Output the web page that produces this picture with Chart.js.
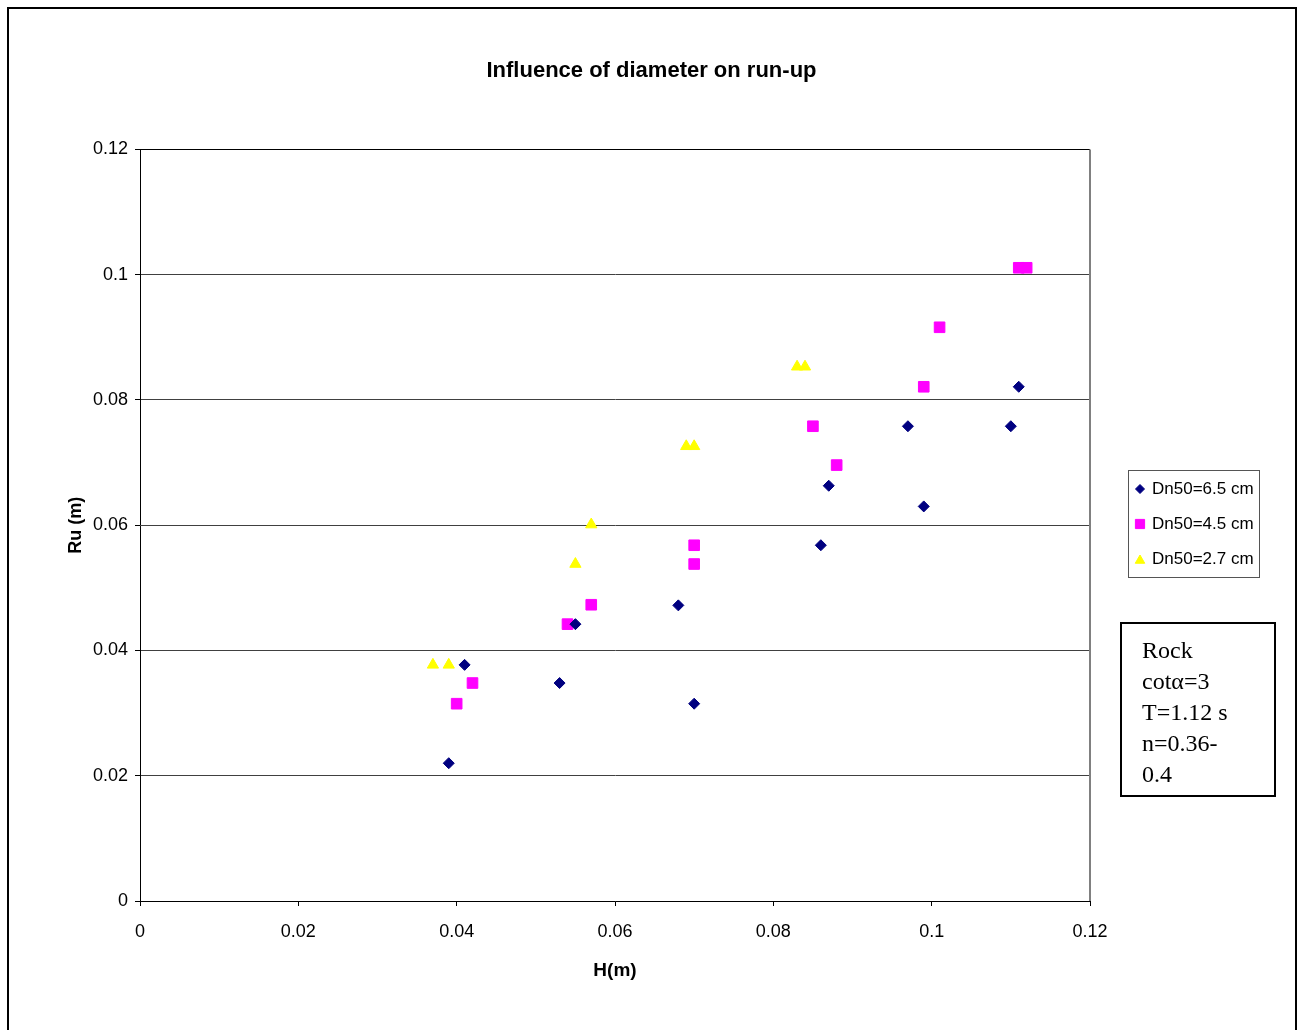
<!DOCTYPE html>
<html>
<head>
<meta charset="utf-8">
<script src="https://cdn.jsdelivr.net/npm/chart.js@4/dist/chart.umd.min.js"></script>
<style>
  html, body { margin: 0; padding: 0; background: #fff; }
  canvas { display: block; }
</style>
</head>
<body>
<canvas id="c" width="1303" height="1030"></canvas>
<script>
// ---- Data ----
const chartTitle = 'Influence of diameter on run-up';
const xAxisTitle = 'H(m)';
const yAxisTitle = 'Ru (m)';
const xTickLabels = ['0', '0.02', '0.04', '0.06', '0.08', '0.1', '0.12'];
const yTickLabels = ['0', '0.02', '0.04', '0.06', '0.08', '0.1', '0.12'];
const seriesNames = ['Dn50=6.5 cm', 'Dn50=4.5 cm', 'Dn50=2.7 cm'];

const h65 = [0.039, 0.041, 0.053, 0.055, 0.068, 0.070, 0.086, 0.087, 0.097, 0.099, 0.110, 0.111];
const ru65 = [0.022, 0.0377, 0.0348, 0.0442, 0.0472, 0.0315, 0.0568, 0.0663, 0.0758, 0.0630, 0.0758, 0.0821];

const h45 = [0.040, 0.042, 0.054, 0.057, 0.070, 0.070, 0.085, 0.088, 0.099, 0.101, 0.111, 0.112];
const ru45 = [0.0315, 0.0348, 0.0442, 0.0473, 0.0538, 0.0568, 0.0758, 0.0696, 0.0821, 0.0916, 0.1011, 0.1011];

const h27 = [0.037, 0.039, 0.055, 0.057, 0.069, 0.070, 0.083, 0.084];
const ru27 = [0.0377, 0.0377, 0.0538, 0.0601, 0.0726, 0.0726, 0.0853, 0.0853];

const noteLines = ['Rock', 'cot\u03B1=3', 'T=1.12 s', 'n=0.36-', '0.4'];

// ---- Build chart ----
const toPts = (xs, ys) => xs.map((x, i) => ({ x: x, y: ys[i] }));
const SANS = '"Liberation Sans", Arial, sans-serif';
const SERIF = '"Liberation Serif", "Times New Roman", serif';

const decor = {
  id: 'decor',
  beforeDraw(chart) {
    const ctx = chart.ctx;
    ctx.save();
    ctx.fillStyle = '#fff';
    ctx.fillRect(0, 0, chart.width, chart.height);
    ctx.restore();
  },
  afterDraw(chart) {
    const ctx = chart.ctx;
    const a = chart.chartArea;
    ctx.save();
    // plot area top & right border
    ctx.strokeStyle = '#000';
    ctx.lineWidth = 1;
    ctx.beginPath();
    ctx.moveTo(a.left, Math.round(a.top) + 0.5);
    ctx.lineTo(a.right, Math.round(a.top) + 0.5);
    ctx.stroke();
    ctx.strokeStyle = '#808080';
    ctx.lineWidth = 2;
    ctx.beginPath();
    ctx.moveTo(Math.round(a.right), a.top);
    ctx.lineTo(Math.round(a.right), a.bottom);
    ctx.stroke();

    // outer chart border
    ctx.strokeStyle = '#000';
    ctx.lineWidth = 2;
    ctx.strokeRect(8, 8, 1288, 1040);

    // legend
    const lx = 1128.5, ly = 470.5, lw = 131, lh = 107;
    ctx.strokeStyle = '#555';
    ctx.lineWidth = 1;
    ctx.strokeRect(lx, ly, lw, lh);
    const rowY = [489, 524, 559];
    const legR = [4.5, 6.5, 5.5];
    chart.data.datasets.forEach((ds, i) => {
      ctx.fillStyle = ds.backgroundColor;
      ctx.strokeStyle = ds.borderColor;
      ctx.lineWidth = 1;
      Chart.helpers.drawPoint(ctx, { pointStyle: ds.pointStyle, radius: legR[i], borderWidth: 1, rotation: 0 }, 1140, rowY[i] + (ds.pointStyle === 'triangle' ? 1.5 : 0));
      ctx.fillStyle = '#000';
      ctx.font = '17px ' + SANS;
      ctx.textBaseline = 'middle';
      ctx.textAlign = 'left';
      ctx.fillText(ds.label, 1152, rowY[i]);
    });

    // note text box
    ctx.strokeStyle = '#000';
    ctx.lineWidth = 2;
    ctx.strokeRect(1121, 623, 154, 173);
    ctx.fillStyle = '#000';
    ctx.font = '24px ' + SERIF;
    ctx.textBaseline = 'alphabetic';
    ctx.textAlign = 'left';
    noteLines.forEach((t, i) => ctx.fillText(t, 1142, 658 + 31 * i));
    ctx.restore();
  }
};

new Chart(document.getElementById('c'), {
  type: 'scatter',
  data: {
    datasets: [
      { label: seriesNames[0], data: toPts(h65, ru65), pointStyle: 'rectRot', pointRadius: 5.5,
        backgroundColor: '#000080', borderColor: '#000080', borderWidth: 1 },
      { label: seriesNames[1], data: toPts(h45, ru45), pointStyle: 'rect', pointRadius: 7.5,
        backgroundColor: '#FF00FF', borderColor: '#FF00FF', borderWidth: 1 },
      { label: seriesNames[2], data: toPts(h27, ru27), pointStyle: 'triangle', pointRadius: 6.5,
        backgroundColor: '#FFFF00', borderColor: '#FFFF00', borderWidth: 1 }
    ]
  },
  options: {
    responsive: false,
    animation: false,
    events: [],
    layout: { padding: 0 },
    font: { family: SANS },
    plugins: {
      legend: { display: false },
      tooltip: { enabled: false },
      title: {
        display: true,
        text: chartTitle,
        color: '#000',
        font: { family: SANS, size: 22, weight: 'bold' },
        padding: { top: 58, bottom: 65 }
      }
    },
    scales: {
      x: {
        type: 'linear',
        min: 0, max: 0.12,
        afterFit: s => { s.height = 129; },
        ticks: {
          stepSize: 0.02,
          color: '#000',
          padding: 15,
          font: { family: SANS, size: 18 },
          maxRotation: 0,
          callback: (v, i) => xTickLabels[i]
        },
        grid: { display: true, drawOnChartArea: false, drawTicks: true, tickLength: 5, tickColor: '#000' },
        border: { display: true, color: '#000', width: 1 },
        title: {
          display: true, text: xAxisTitle, color: '#000',
          font: { family: SANS, size: 19, weight: 'bold' },
          padding: { top: 0, bottom: 48 }
        }
      },
      y: {
        type: 'linear',
        min: 0, max: 0.12,
        afterFit: s => { s.width = 140; },
        ticks: {
          stepSize: 0.02,
          color: '#000',
          padding: 7,
          font: { family: SANS, size: 18 },
          callback: (v, i) => yTickLabels[i]
        },
        grid: { color: '#404040', lineWidth: 1, drawTicks: true, tickLength: 5, tickColor: '#000' },
        border: { display: true, color: '#000', width: 1 },
        title: {
          display: true, text: yAxisTitle, color: '#000',
          font: { family: SANS, size: 18, weight: 'bold' },
          padding: { top: 65, bottom: 0 }
        }
      },
      spacer: {
        type: 'linear',
        position: 'right',
        display: true,
        afterFit: s => { s.width = 213; },
        ticks: { display: false },
        grid: { display: false },
        border: { display: false }
      }
    }
  },
  plugins: [decor]
});
</script>
</body>
</html>
